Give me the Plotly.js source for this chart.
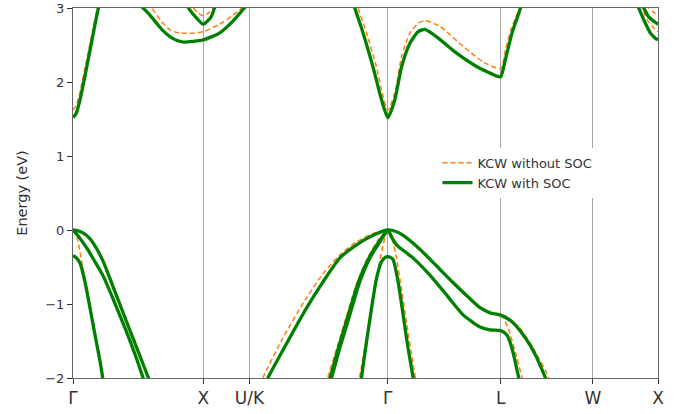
<!DOCTYPE html>
<html><head><meta charset="utf-8">
<script src="https://cdn.plot.ly/plotly-3.0.1.min.js"></script>
<style>html,body{margin:0;padding:0;background:#fff}#chart{width:690px;height:414px}</style>
</head><body><div id="chart"></div>
<script>
// High-symmetry path (k distance along path)
const kTicks = [0, 1.0, 1.354, 2.415, 3.281, 3.988, 4.488];
const kLabels = ['Γ', 'X', 'U/K', 'Γ', 'L', 'W', 'X'];

// ---- KCW without SOC (orange dashed) ----
const nsC1_k = [0, 0.023, 0.054, 0.1, 0.154, 0.188, 0.215];
const nsC1_e = [1.62, 1.68, 1.87, 2.26, 2.72, 3.02, 3.25];
const nsC2_k = [0.576, 0.605, 0.669, 0.746, 0.822, 0.925, 1.0, 1.123, 1.225, 1.277, 1.315];
const nsC2_e = [3.08, 3.0, 2.84, 2.7, 2.66, 2.66, 2.68, 2.78, 2.9, 2.97, 3.04];
const nsC3_k = [0.9, 0.925, 0.961, 1.0, 1.038, 1.071, 1.092];
const nsC3_e = [3.1, 3.0, 2.93, 2.895, 2.93, 3.0, 3.08];
const nsC4_k = [2.154, 2.187, 2.252, 2.329, 2.379, 2.415, 2.469, 2.52, 2.584, 2.646, 2.7, 2.815, 2.994, 3.148, 3.281, 3.317, 3.358, 3.394, 3.427, 3.458];
const nsC4_e = [3.2, 3.0, 2.66, 2.2, 1.8, 1.62, 1.85, 2.34, 2.66, 2.79, 2.83, 2.75, 2.48, 2.27, 2.18, 2.43, 2.7, 2.86, 3.0, 3.2];
const nsC5_k = [4.355, 4.366, 4.405, 4.456, 4.488];
const nsC5_e = [3.05, 3.0, 2.84, 2.73, 2.68];
const nsC6_k = [4.405, 4.417, 4.456, 4.488];
const nsC6_e = [3.05, 3.0, 2.94, 2.9];
const nsV1_k = [0, 0.038, 0.077, 0.131, 0.184, 0.238, 0.315, 0.415, 0.515, 0.584, 0.638];
const nsV1_e = [0, -0.01, -0.04, -0.12, -0.25, -0.43, -0.77, -1.23, -1.68, -2.0, -2.24];
const nsV2_k = [0, 0.015, 0.031, 0.054, 0.069, 0.092, 0.131, 0.169, 0.208, 0.234, 0.261];
const nsV2_e = [0, -0.03, -0.1, -0.3, -0.45, -0.66, -1.02, -1.38, -1.74, -2.0, -2.25];
const nsV3_k = [1.415, 1.456, 1.61, 1.79, 1.918, 2.046, 2.175, 2.302, 2.415];
const nsV3_e = [-2.2, -2.0, -1.46, -0.92, -0.59, -0.34, -0.16, -0.045, 0];
const nsV4_k = [1.931, 1.954, 2.023, 2.1, 2.177, 2.254, 2.338, 2.415];
const nsV4_e = [-2.2, -2.0, -1.6, -1.15, -0.72, -0.4, -0.14, 0];
const nsV5_k = [2.177, 2.196, 2.208, 2.246, 2.285, 2.323, 2.354, 2.377, 2.4, 2.415, 2.43, 2.453, 2.482, 2.52, 2.559, 2.61, 2.627, 2.646];
const nsV5_e = [-2.2, -2.0, -1.9, -1.5, -1.1, -0.72, -0.42, -0.22, -0.06, 0, -0.03, -0.15, -0.38, -0.8, -1.25, -1.82, -2.0, -2.2];
const nsV6_k = [2.415, 2.477, 2.53, 2.661, 2.792, 2.915, 3.046, 3.123, 3.2, 3.281, 3.317, 3.368, 3.42, 3.471, 3.522, 3.573, 3.625, 3.65, 3.68];
const nsV6_e = [0, -0.02, -0.07, -0.26, -0.49, -0.71, -0.93, -1.05, -1.12, -1.15, -1.17, -1.24, -1.31, -1.43, -1.57, -1.73, -1.9, -2.0, -2.13];
const nsV7_k = [3.281, 3.304, 3.327, 3.356, 3.406, 3.445, 3.466];
const nsV7_e = [-1.15, -1.19, -1.28, -1.42, -1.73, -2.0, -2.2];

// ---- KCW with SOC (green solid) ----
const sC1_k = [0, 0.023, 0.054, 0.105, 0.156, 0.195, 0.223, 0.25];
const sC1_e = [1.52, 1.57, 1.76, 2.2, 2.66, 3.0, 3.2, 3.38];
const sC2_k = [0.5, 0.538, 0.592, 0.643, 0.692, 0.746, 0.8, 0.848, 0.922, 1.0, 1.123, 1.225, 1.315, 1.369];
const sC2_e = [3.07, 3.0, 2.9, 2.79, 2.69, 2.61, 2.56, 2.54, 2.55, 2.57, 2.66, 2.82, 3.0, 3.1];
const sC3_k = [0.85, 0.886, 0.95, 1.0, 1.06, 1.085, 1.108];
const sC3_e = [3.15, 3.0, 2.86, 2.78, 2.88, 3.0, 3.15];
const sC4_k = [2.123, 2.162, 2.226, 2.302, 2.367, 2.415, 2.469, 2.52, 2.584, 2.648, 2.7, 2.79, 2.943, 3.096, 3.25, 3.281, 3.317, 3.368, 3.433, 3.46];
const sC4_e = [3.25, 3.0, 2.66, 2.2, 1.76, 1.52, 1.76, 2.2, 2.52, 2.68, 2.71, 2.61, 2.39, 2.21, 2.08, 2.07, 2.3, 2.66, 3.0, 3.2];
const sC5_k = [4.323, 4.34, 4.379, 4.43, 4.469, 4.488];
const sC5_e = [3.08, 3.0, 2.84, 2.66, 2.59, 2.57];
const sC6_k = [4.36, 4.379, 4.417, 4.456, 4.488];
const sC6_e = [3.06, 3.0, 2.88, 2.82, 2.78];
const sV1_k = [0, 0.038, 0.077, 0.131, 0.184, 0.233, 0.31, 0.413, 0.515, 0.579, 0.63];
const sV1_e = [0, -0.01, -0.04, -0.12, -0.26, -0.43, -0.78, -1.25, -1.71, -2.0, -2.24];
const sV2_k = [0, 0.031, 0.069, 0.115, 0.169, 0.231, 0.307, 0.407, 0.484, 0.538, 0.592];
const sV2_e = [0, -0.06, -0.15, -0.27, -0.43, -0.62, -0.93, -1.36, -1.72, -2.0, -2.25];
const sV3_k = [0, 0.023, 0.054, 0.092, 0.131, 0.169, 0.208, 0.228, 0.254];
const sV3_e = [-0.35, -0.37, -0.45, -0.7, -1.06, -1.42, -1.78, -2.0, -2.24];
const sV4_k = [1.456, 1.495, 1.662, 1.79, 1.918, 2.046, 2.175, 2.302, 2.415, 2.477, 2.53, 2.661, 2.792, 2.915, 3.046, 3.123, 3.2, 3.281, 3.368, 3.471, 3.548, 3.625, 3.666];
const sV4_e = [-2.15, -2.0, -1.46, -1.06, -0.7, -0.38, -0.2, -0.07, 0, -0.02, -0.07, -0.26, -0.49, -0.71, -0.93, -1.05, -1.12, -1.15, -1.24, -1.46, -1.69, -2.0, -2.18];
const sV5_k = [1.946, 1.983, 2.046, 2.123, 2.2, 2.277, 2.354, 2.415, 2.446, 2.482, 2.61, 2.738, 2.867, 2.995, 3.123, 3.2, 3.281, 3.329, 3.368, 3.42, 3.443];
const sV5_e = [-2.2, -2.0, -1.6, -1.15, -0.7, -0.38, -0.16, 0, -0.1, -0.2, -0.38, -0.61, -0.88, -1.15, -1.31, -1.35, -1.36, -1.42, -1.6, -2.0, -2.2];
const sV6_k = [1.935, 1.972, 2.035, 2.112, 2.19, 2.27, 2.35, 2.415];
const sV6_e = [-2.2, -2.0, -1.6, -1.15, -0.7, -0.38, -0.15, 0];
const sV7_k = [2.193, 2.213, 2.252, 2.29, 2.329, 2.367, 2.395, 2.415, 2.435, 2.456, 2.494, 2.533, 2.571, 2.61, 2.63];
const sV7_e = [-2.3, -2.0, -1.51, -1.06, -0.65, -0.43, -0.37, -0.36, -0.37, -0.4, -0.7, -1.15, -1.6, -2.0, -2.2];

const noSocBands = [[nsC1_k, nsC1_e], [nsC2_k, nsC2_e], [nsC3_k, nsC3_e], [nsC4_k, nsC4_e], [nsC5_k, nsC5_e], [nsC6_k, nsC6_e],
  [nsV1_k, nsV1_e], [nsV2_k, nsV2_e], [nsV3_k, nsV3_e], [nsV4_k, nsV4_e], [nsV5_k, nsV5_e], [nsV6_k, nsV6_e], [nsV7_k, nsV7_e]];
const socBands = [[sC1_k, sC1_e], [sC2_k, sC2_e], [sC3_k, sC3_e], [sC4_k, sC4_e], [sC5_k, sC5_e], [sC6_k, sC6_e],
  [sV1_k, sV1_e], [sV2_k, sV2_e], [sV3_k, sV3_e], [sV4_k, sV4_e], [sV5_k, sV5_e], [sV6_k, sV6_e], [sV7_k, sV7_e]];

const FONT = 'DejaVu Sans';
const traces = [];
noSocBands.forEach(([k, e], i) => traces.push({
  x: k, y: e, type: 'scatter', mode: 'lines', name: 'KCW without SOC', legendgroup: 'ns', showlegend: i === 0,
  line: {color: '#ff7f0e', width: 1.5, dash: '5px,3px', shape: 'spline', smoothing: 0.6}, hoverinfo: 'skip'
}));
socBands.forEach(([k, e], i) => traces.push({
  x: k, y: e, type: 'scatter', mode: 'lines', name: 'KCW with SOC', legendgroup: 's', showlegend: i === 0,
  line: {color: 'green', width: 3.3, shape: 'spline', smoothing: 0.6}, hoverinfo: 'skip'
}));

const layout = {
  width: 690, height: 414,
  margin: {l: 73, r: 32, t: 8, b: 36, pad: 0},
  paper_bgcolor: '#fff', plot_bgcolor: '#fff',
  font: {family: FONT, color: '#333', size: 13},
  showlegend: true,
  legend: {x: 0.623, y: 0.622, xanchor: 'left', yanchor: 'top', bgcolor: '#fff', borderwidth: 0,
    font: {family: FONT, size: 13, color: '#333'}, tracegroupgap: 0, traceorder: 'normal'},
  xaxis: {range: [kTicks[0], kTicks[kTicks.length - 1]], tickmode: 'array', tickvals: kTicks, ticktext: kLabels,
    showgrid: true, gridcolor: '#a6a6a6', gridwidth: 1, zeroline: false,
    showline: true, mirror: true, linecolor: '#666', linewidth: 1,
    ticks: 'outside', ticklen: 5, tickcolor: '#333', tickwidth: 1,
    tickfont: {family: FONT, size: 17, color: '#333'}},
  yaxis: {range: [-2, 3], tickmode: 'linear', tick0: -2, dtick: 1,
    showgrid: false, zeroline: false, showline: true, mirror: true, linecolor: '#666', linewidth: 1,
    ticks: 'outside', ticklen: 5, tickcolor: '#333', tickwidth: 1,
    tickfont: {family: FONT, size: 13, color: '#333'},
    title: {text: 'Energy (eV)', font: {family: FONT, size: 14.5, color: '#333'}, standoff: 14}}
};
Plotly.newPlot('chart', traces, layout, {staticPlot: true, displayModeBar: false});
</script></body></html>
